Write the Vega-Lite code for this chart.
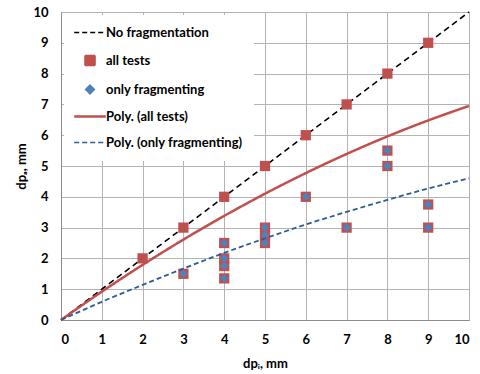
{
  "$schema": "https://vega.github.io/schema/vega-lite/v6.json",
  "width": 408,
  "height": 308,
  "autosize": {"type": "none"},
  "padding": {"left": 61, "top": 12, "right": 11, "bottom": 54},
  "background": "white",
  "config": {
    "font": "Lato",
    "view": {"stroke": "#a6a6a6", "strokeWidth": 1},
    "axis": {
      "grid": true,
      "gridColor": "#b3b3b3",
      "gridWidth": 1,
      "gridOpacity": 1,
      "domainColor": "#8c8c8c",
      "domainWidth": 1,
      "ticks": false,
      "labelFont": "Lato",
      "labelFontSize": 13,
      "labelFontWeight": "bold",
      "labelColor": "#000000",
      "labelPadding": 13,
      "titleFont": "Lato",
      "titleFontSize": 13,
      "titleFontWeight": "bold",
      "titleColor": "#000000"
    }
  },
  "datasets": {
    "lines": [
      {"x": 0, "y": 0, "series": "No fragmentation"},
      {"x": 10, "y": 10, "series": "No fragmentation"},
      {"x": 0, "y": 0, "series": "Poly. (all tests)"},
      {"x": 1, "y": 0.92, "series": "Poly. (all tests)"},
      {"x": 2, "y": 1.79, "series": "Poly. (all tests)"},
      {"x": 3, "y": 2.61, "series": "Poly. (all tests)"},
      {"x": 4, "y": 3.38, "series": "Poly. (all tests)"},
      {"x": 5, "y": 4.1, "series": "Poly. (all tests)"},
      {"x": 6, "y": 4.77, "series": "Poly. (all tests)"},
      {"x": 7, "y": 5.39, "series": "Poly. (all tests)"},
      {"x": 8, "y": 5.96, "series": "Poly. (all tests)"},
      {"x": 9, "y": 6.48, "series": "Poly. (all tests)"},
      {"x": 10, "y": 6.95, "series": "Poly. (all tests)"},
      {"x": 0, "y": 0, "series": "Poly. (only fragmenting)"},
      {"x": 1, "y": 0.59, "series": "Poly. (only fragmenting)"},
      {"x": 2, "y": 1.14, "series": "Poly. (only fragmenting)"},
      {"x": 3, "y": 1.67, "series": "Poly. (only fragmenting)"},
      {"x": 4, "y": 2.18, "series": "Poly. (only fragmenting)"},
      {"x": 5, "y": 2.65, "series": "Poly. (only fragmenting)"},
      {"x": 6, "y": 3.1, "series": "Poly. (only fragmenting)"},
      {"x": 7, "y": 3.51, "series": "Poly. (only fragmenting)"},
      {"x": 8, "y": 3.9, "series": "Poly. (only fragmenting)"},
      {"x": 9, "y": 4.27, "series": "Poly. (only fragmenting)"},
      {"x": 10, "y": 4.6, "series": "Poly. (only fragmenting)"}
    ],
    "points": [
      {"x": 2, "y": 2, "series": "all tests"},
      {"x": 3, "y": 3, "series": "all tests"},
      {"x": 4, "y": 4, "series": "all tests"},
      {"x": 5, "y": 5, "series": "all tests"},
      {"x": 6, "y": 6, "series": "all tests"},
      {"x": 7, "y": 7, "series": "all tests"},
      {"x": 8, "y": 8, "series": "all tests"},
      {"x": 9, "y": 9, "series": "all tests"},
      {"x": 3, "y": 1.5, "series": "all tests"},
      {"x": 4, "y": 2.5, "series": "all tests"},
      {"x": 4, "y": 2, "series": "all tests"},
      {"x": 4, "y": 1.75, "series": "all tests"},
      {"x": 4, "y": 1.35, "series": "all tests"},
      {"x": 5, "y": 3, "series": "all tests"},
      {"x": 5, "y": 2.75, "series": "all tests"},
      {"x": 5, "y": 2.5, "series": "all tests"},
      {"x": 6, "y": 4, "series": "all tests"},
      {"x": 7, "y": 3, "series": "all tests"},
      {"x": 8, "y": 5.5, "series": "all tests"},
      {"x": 8, "y": 5, "series": "all tests"},
      {"x": 9, "y": 3.75, "series": "all tests"},
      {"x": 9, "y": 3, "series": "all tests"},
      {"x": 3, "y": 1.5, "series": "only fragmenting"},
      {"x": 4, "y": 2.5, "series": "only fragmenting"},
      {"x": 4, "y": 2, "series": "only fragmenting"},
      {"x": 4, "y": 1.75, "series": "only fragmenting"},
      {"x": 4, "y": 1.35, "series": "only fragmenting"},
      {"x": 5, "y": 3, "series": "only fragmenting"},
      {"x": 5, "y": 2.75, "series": "only fragmenting"},
      {"x": 5, "y": 2.5, "series": "only fragmenting"},
      {"x": 6, "y": 4, "series": "only fragmenting"},
      {"x": 7, "y": 3, "series": "only fragmenting"},
      {"x": 8, "y": 5.5, "series": "only fragmenting"},
      {"x": 8, "y": 5, "series": "only fragmenting"},
      {"x": 9, "y": 3.75, "series": "only fragmenting"},
      {"x": 9, "y": 3, "series": "only fragmenting"}
    ]
  },
  "encoding": {
    "x": {
      "field": "x", "type": "quantitative",
      "scale": {"domain": [0, 10], "nice": false, "zero": true},
      "axis": {"values": [0,1,2,3,4,5,6,7,8,9,10], "title": "dpᵢ, mm", "titlePadding": 11}
    },
    "y": {
      "field": "y", "type": "quantitative",
      "scale": {"domain": [0, 10], "nice": false},
      "axis": {"values": [0,1,2,3,4,5,6,7,8,9,10], "title": "dpₐ, mm", "titlePadding": 4}
    },
    "color": {
      "field": "series", "type": "nominal",
      "scale": {
        "domain": ["No fragmentation", "all tests", "only fragmenting", "Poly. (all tests)", "Poly. (only fragmenting)"],
        "range": ["#000000", "#c0504d", "#4f81bd", "#c0504d", "#2c5d96"]
      },
      "legend": {
        "title": null,
        "orient": "none",
        "legendX": 3,
        "legendY": 3,
        "fillColor": "white",
        "padding": 11,
        "labelFont": "Lato",
        "labelFontSize": 13,
        "labelFontWeight": "bold",
        "labelColor": "#000000",
        "labelOffset": 18,
        "rowPadding": 12,
        "symbolSize": 1000,
        "symbolType": "stroke",
        "encode": {
          "symbols": {
            "update": {
              "x": {"value": 15},
              "shape": {"signal": "datum.value == 'all tests' ? 'square' : datum.value == 'only fragmenting' ? 'diamond' : 'stroke'"},
              "size": {"signal": "datum.value == 'all tests' ? 100 : datum.value == 'only fragmenting' ? 75 : 1000"},
              "fill": {"signal": "datum.value == 'all tests' ? '#c0504d' : datum.value == 'only fragmenting' ? '#4f81bd' : 'transparent'"},
              "stroke": {"signal": "datum.value == 'No fragmentation' ? '#000000' : datum.value == 'Poly. (all tests)' ? '#c0504d' : datum.value == 'Poly. (only fragmenting)' ? '#2c5d96' : 'transparent'"},
              "strokeDash": {"signal": "(datum.value == 'No fragmentation' || datum.value == 'Poly. (only fragmenting)') ? [5, 3] : [1, 0]"},
              "strokeWidth": {"signal": "datum.value == 'Poly. (all tests)' ? 2.5 : 1.6"},
              "opacity": {"value": 1}
            }
          }
        }
      }
    }
  },
  "layer": [
    {
      "data": {"name": "lines"},
      "transform": [{"filter": "datum.series == 'No fragmentation'"}],
      "mark": {"type": "line", "strokeDash": [6, 4], "strokeWidth": 1.6},
      "encoding": {"detail": {"field": "series"}}
    },
    {
      "data": {"name": "points"},
      "mark": {"type": "point", "filled": true, "opacity": 1},
      "encoding": {
        "shape": {
          "field": "series", "type": "nominal",
          "scale": {"domain": ["all tests", "only fragmenting"], "range": ["square", "diamond"]},
          "legend": null
        },
        "size": {
          "field": "series", "type": "nominal",
          "scale": {"domain": ["all tests", "only fragmenting"], "range": [105, 72]},
          "legend": null
        }
      }
    },
    {
      "data": {"name": "lines"},
      "transform": [{"filter": "datum.series != 'No fragmentation'"}],
      "mark": {"type": "line", "interpolate": "monotone"},
      "encoding": {
        "detail": {"field": "series"},
        "strokeDash": {
          "field": "series", "type": "nominal",
          "scale": {"domain": ["Poly. (all tests)", "Poly. (only fragmenting)"], "range": [[1, 0], [5, 3]]},
          "legend": null
        },
        "strokeWidth": {
          "field": "series", "type": "nominal",
          "scale": {"domain": ["Poly. (all tests)", "Poly. (only fragmenting)"], "range": [2.5, 1.8]},
          "legend": null
        }
      }
    }
  ]
}
